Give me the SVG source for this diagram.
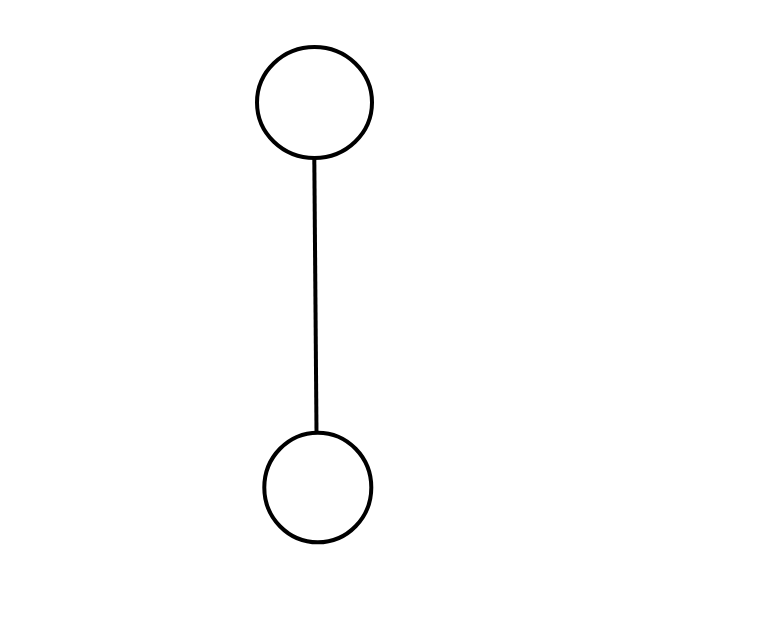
<svg xmlns="http://www.w3.org/2000/svg" width="766" height="623" viewBox="0 0 766 623">
<style>
.node{fill:none;stroke:#000;stroke-width:4}
.edge{stroke:#000;stroke-width:4;fill:none}
</style>
<rect width="766" height="623" fill="#fff"/>
<g id="connectors">
<line class="edge" x1="314.3" y1="159" x2="316.5" y2="432"/>
</g>
<g id="node-top">
<ellipse class="node" cx="314.5" cy="102.5" rx="57.5" ry="55.5"/>
</g>
<g id="node-bottom">
<ellipse class="node" cx="317.8" cy="487.5" rx="53.5" ry="54.8"/>
</g>
</svg>
